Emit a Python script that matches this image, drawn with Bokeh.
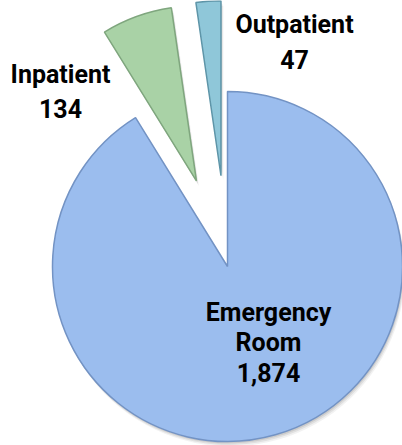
import numpy as np
from bokeh.plotting import figure
from bokeh.models import Range1d, ColumnDataSource
from bokeh.core.properties import value
from bokeh.embed import file_html
from bokeh.resources import INLINE

# ---- data ----
categories = ["Emergency Room", "Inpatient", "Outpatient"]
counts = [1874, 134, 47]

# ---- styling / layout ----
colors = ["#9BBDEE", "#A9D2A6", "#8FC7D9"]
edge_colors = ["#7393C4", "#7FA67E", "#5E95A8"]
explode = [0.0, 0.52, 0.52]
W, H = 402, 445
IMG_H = 445
CX, CY = 227, IMG_H - 266
R = 175
# label anchors: (center x, first baseline y in page px, line gap)
label_anchor = [(268, 312, 30), (60, 74, 34), (294, 24, 35)]

total = float(sum(counts))
cum = np.cumsum([0] + counts)
start = np.pi / 2 - 2 * np.pi * cum[:-1] / total
end = np.pi / 2 - 2 * np.pi * cum[1:] / total
mid = (start + end) / 2
xs = [CX + e * R * np.cos(m) for e, m in zip(explode, mid)]
ys = [CY + e * R * np.sin(m) for e, m in zip(explode, mid)]

src = ColumnDataSource(dict(x=xs, y=ys, start=start, end=end,
                            color=colors, edge=edge_colors, cat=categories))

p = figure(width=W, height=H, x_range=Range1d(0, W), y_range=Range1d(IMG_H - H, IMG_H),
           output_backend="svg", toolbar_location=None, min_border=0)
p.axis.visible = False
p.grid.visible = False
p.outline_line_color = None
p.background_fill_color = "white"

# soft drop shadow
for k, a in [(5, 0.05), (3.5, 0.07), (2, 0.09)]:
    sh = ColumnDataSource(dict(x=[v + k * 0.5 for v in xs], y=[v - k for v in ys],
                               start=start, end=end))
    p.wedge(x="x", y="y", radius=R, start_angle="start", end_angle="end", direction="clock",
            source=sh, fill_color="#000000", fill_alpha=a, line_color=None)
p.wedge(x="x", y="y", radius=R, start_angle="start", end_angle="end", direction="clock",
        source=src, fill_color="color", line_color="edge", line_width=1.5)

# labels
tx, ty, tt = [], [], []
for cat, cnt, (lx, ly, gap) in zip(categories, counts, label_anchor):
    lines = cat.split(" ") + [f"{cnt:,}"]
    for i, ln in enumerate(lines):
        tx.append(lx)
        ty.append(IMG_H - (ly + i * gap))
        tt.append(ln)
p.text(x=tx, y=ty, text=tt, text_font=value("Roboto"), text_font_style="bold",
       text_font_size="25px", text_align="center", text_baseline="alphabetic",
       text_color="#000000")

open("out.html", "w").write(file_html(p, INLINE))
